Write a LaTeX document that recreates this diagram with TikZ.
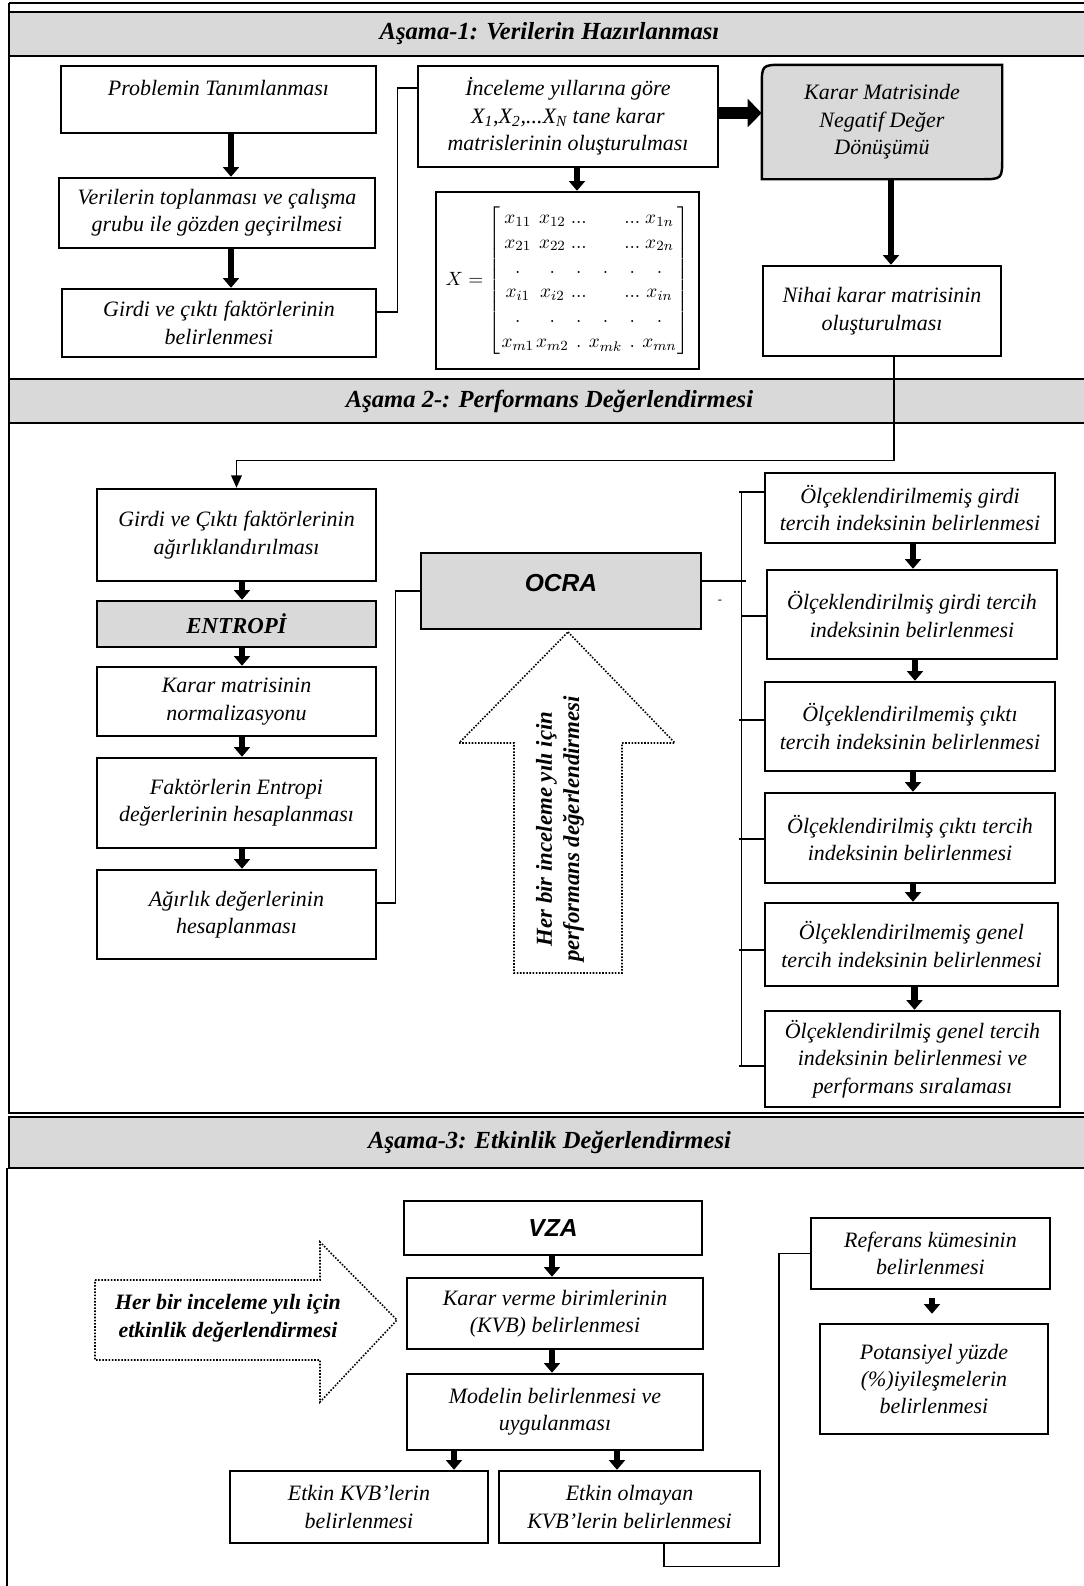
\documentclass[tikz,border=0pt]{standalone}
\usepackage{fontspec}
\setmainfont{Liberation Serif}
\setsansfont{Liberation Sans}
\usepackage{tikz}
\usetikzlibrary{arrows.meta, positioning, calc, backgrounds}
\tikzset{sz/.style 2 args={minimum width=#1*0.02cm, minimum height=#2*0.02cm}}

\begin{document}
\begin{tikzpicture}[
  x=0.02cm, y=-0.02cm,
  box/.style={rectangle, draw, line width=1.4pt, fill=white, align=center, inner sep=2pt, font=\itshape\fontsize{12.5}{15.6}\selectfont},
  gbox/.style={box, fill=black!15},
  hdr/.style={rectangle, draw, line width=0.8pt, fill=black!15, font=\bfseries\itshape\fontsize{14}{17}\selectfont},
  bold/.style={align=center, font=\bfseries\itshape\fontsize{13}{15.6}\selectfont},
  sans/.style={font=\sffamily\bfseries\itshape\fontsize{14}{16}\selectfont},
  arr/.style={line width=3.5pt, -{Triangle[width=9pt,length=5.5pt]}},
  bigarr/.style={line width=6.8pt, -{Triangle[width=15.5pt,length=8pt]}},
  conn/.style={line width=0.8pt},
  frame/.style={line width=1pt},
  dots/.style={line width=0.9pt, dash pattern=on 0.9pt off 0.9pt},
]
\useasboundingbox (0,0) rectangle (1083,1586);

% frame
\draw[frame] (9,3) -- (1090,3);
\draw[frame] (9,3) -- (9,1113) -- (1090,1113);
\draw[frame] (7,1168) -- (7,1586);

% Asama 1
\node[hdr, sz={1081}{44}] (h1) at (549.5,34) {Aşama-1: Verilerin Hazırlanması};
\node[box, sz={315}{67}, text height=9pt, text depth=14pt] (prob) at (218.5,99.5) {Problemin Tanımlanması};
\node[box, sz={316}{70}] (ver) at (217,213) {Verilerin toplanması ve çalışma\\grubu ile gözden geçirilmesi};
\node[box, sz={314}{68}] (gfb) at (219,323) {Girdi ve çıktı faktörlerinin\\belirlenmesi};
\node[box, sz={300}{101}] (inc) at (568,116.5) {İnceleme yıllarına göre\\X\textsubscript{1},X\textsubscript{2},...X\textsubscript{N} tane karar\\matrislerinin oluşturulması};
\node[box, sz={263}{177}, font=\fontsize{11}{14.2}\selectfont] (mtx) at (567.5,280.5) {\setlength\arraycolsep{0.6pt}%
  $X=\left[\begin{array}{cccccc}
  x_{11} & x_{12} & ... & & ... & x_{1n}\\
  x_{21} & x_{22} & ... & & ... & x_{2n}\\
  . & . & . & . & . & .\\
  x_{i1} & x_{i2} & ... & & ... & x_{in}\\
  . & . & . & . & . & .\\
  x_{m1} & x_{m2} & . & x_{mk} & . & x_{mn}
  \end{array}\right]$};
\node[box, draw=none, fill=none, sz={238}{112}] (kmn) at (882,122) {Karar Matrisinde\\Negatif Değer\\Dönüşümü};
\node[box, sz={238}{90}] (nih) at (882,311) {Nihai karar matrisinin\\oluşturulması};
\begin{scope}[on background layer]
\draw[line width=1.4pt, fill=black!15] (kmn.south west) -- ($(kmn.north west)+(0,22)$) .. controls (kmn.north west) .. ($(kmn.north west)+(22,0)$) -- (kmn.north east) -- ($(kmn.south east)+(0,-22)$) .. controls (kmn.south east) .. ($(kmn.south east)+(-22,0)$) -- cycle;
\end{scope}

% Asama 2
\node[hdr, sz={1081}{44}] (h2) at (549.5,401) {Aşama 2-: Performans Değerlendirmesi};
\node[box, sz={279}{92}] (gcw) at (236.5,535) {Girdi ve Çıktı faktörlerinin\\ağırlıklandırılması};
\node[gbox, sz={279}{46}, font=\bfseries\itshape\fontsize{13}{15.6}\selectfont] (ent) at (236.5,624) {ENTROPİ};
\node[box, sz={279}{69}] (kmz) at (236.5,701.5) {Karar matrisinin\\normalizasyonu};
\node[box, sz={279}{90}] (fak) at (236.5,803) {Faktörlerin Entropi\\değerlerinin hesaplanması};
\node[box, sz={279}{89}] (agr) at (236.5,914.5) {Ağırlık değerlerinin\\hesaplanması};
\node[gbox, sz={280}{76}, sans, text height=10pt, text depth=9pt] (ocra) at (561,591) {OCRA};
\node[inner sep=0, font=\fontsize{7}{7}\selectfont] (dsh) at (720,602) {-};
\node[box, sz={290}{70}] (r1) at (910,508) {Ölçeklendirilmemiş girdi\\tercih indeksinin belirlenmesi};
\node[box, sz={290}{89}] (r2) at (912,614.5) {Ölçeklendirilmiş girdi tercih\\indeksinin belirlenmesi};
\node[box, sz={290}{89}] (r3) at (910,726.5) {Ölçeklendirilmemiş çıktı\\tercih indeksinin belirlenmesi};
\node[box, sz={290}{90}] (r4) at (910,838) {Ölçeklendirilmiş çıktı tercih\\indeksinin belirlenmesi};
\node[box, sz={293}{83}] (r5) at (911.5,944.5) {Ölçeklendirilmemiş genel\\tercih indeksinin belirlenmesi};
\node[box, sz={295}{96}] (r6) at (912.5,1059) {Ölçeklendirilmiş genel tercih\\indeksinin belirlenmesi ve\\performans sıralaması};
\draw[dots] (568,632) -- (675,743) -- (622,743) -- (622,973) -- (514,973) -- (514,743) -- (459,743) -- cycle;
\node[bold, rotate=90] (vtxt) at (560,829) {Her bir inceleme yılı için\\performans değerlendirmesi};

% Asama 3
\node[hdr, sz={1081}{51}] (h3) at (549.5,1142.5) {Aşama-3: Etkinlik Değerlendirmesi};
\node[box, sz={298}{54}, sans] (vza) at (553,1228) {VZA};
\node[box, sz={296}{71}] (kvb) at (555,1313.5) {Karar verme birimlerinin\\(KVB) belirlenmesi};
\node[box, sz={296}{76}] (mod) at (555,1412) {Modelin belirlenmesi ve\\uygulanması};
\node[box, sz={258}{72}] (etk) at (359,1507) {Etkin KVB’lerin\\belirlenmesi};
\node[box, sz={261}{72}] (eol) at (629.5,1507) {Etkin olmayan\\KVB’lerin belirlenmesi};
\node[box, sz={239}{71}] (ref) at (930.5,1253.5) {Referans kümesinin\\belirlenmesi};
\node[box, sz={228}{110}] (pot) at (934,1379) {Potansiyel yüzde\\(\%)iyileşmelerin\\belirlenmesi};
\draw[dots] (95,1280) -- (320,1280) -- (320,1242) -- (397,1320) -- (320,1402) -- (320,1360) -- (95,1360) -- cycle;
\node[bold, font=\bfseries\itshape\fontsize{12.5}{15.6}\selectfont] (htxt) at (228,1318) {Her bir inceleme yılı için\\etkinlik değerlendirmesi};

% connectors
\draw[arr] ($(prob.south)+(12.5,0)$) coordinate (t) -- (t |- ver.north);
\draw[arr] ($(ver.south)+(14,0)$) coordinate (t) -- (t |- gfb.north);
\draw[arr] ($(inc.south)+(9,0)$) coordinate (t) -- (t |- mtx.north);
\draw[bigarr] ($(inc.east)+(0,-3.5)$) coordinate (t) -- (t -| kmn.west);
\draw[arr] ($(kmn.south)+(9,0)$) coordinate (t) -- (t |- nih.north);
\draw[conn] ($(gfb.east)+(0,-11)$) -- ++(20,0) |- ($(inc.west)+(0,-28.5)$);
\draw[conn, -{Triangle[width=6pt,length=7pt]}] ($(nih.south)+(12,0)$) -- ++(0,103) -| (gcw.north);
\foreach \a/\b in {gcw/ent, ent/kmz, kmz/fak, fak/agr}
  \draw[arr] ($(\a.south)+(5.5,0)$) coordinate (t) -- (t |- \b.north);
\foreach \a/\b in {r1/r2, r2/r3, r3/r4, r4/r5, r5/r6}
  \draw[arr] ($(\a.south)+(3,0)$) coordinate (t) -- (t |- \b.north);
\draw[conn] ($(agr.east)+(0,-11.5)$) -- ++(18,0) |- (ocra.west);
\draw[conn] (ocra.east) ++(0,-10) -- ++(44,0);
\draw[conn] ($(r1.west)+(-22,-16)$) -- ($(r6.west)+(-22,7)$);
\foreach \b/\d in {r1/-16, r2/1.5, r3/-6.5, r4/1, r5/5.5, r6/7}
  \draw[conn] ($(\b.west)+(-25,\d)$) -- ($(\b.west)+(0,\d)$);
\draw[arr] ($(vza.south)+(-1,0)$) coordinate (t) -- (t |- kvb.north);
\draw[arr] ($(kvb.south)+(-3,0)$) coordinate (t) -- (t |- mod.north);
\draw[arr] ($(mod.south)+(-101,0)$) coordinate (t) -- (t |- etk.north);
\draw[arr] ($(mod.south)+(62,0)$) coordinate (t) -- (t |- eol.north);
\draw[arr] ($(ref.south)+(1.5,8)$) coordinate (t) -- ($(t |- pot.north)+(0,-9)$);
\draw[conn] ($(eol.south)+(34.5,0)$) -- ++(0,22) -- ++(115,0) |- (ref.west);
\end{tikzpicture}
\end{document}
